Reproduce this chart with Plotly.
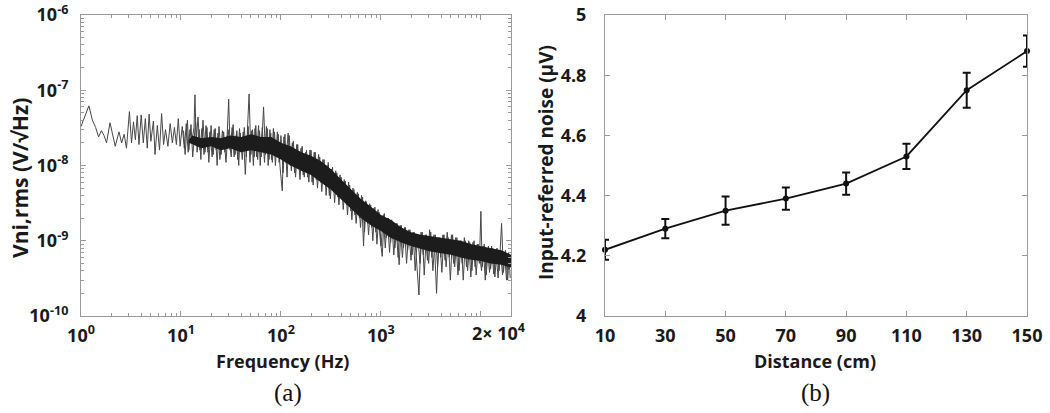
import plotly.graph_objects as go

# ---------------- (a) noise spectrum ----------------
freq = [1.0, 1.1, 1.2, 1.3, 1.4, 1.5, 1.6, 1.7, 1.8, 1.95, 2.1, 2.2, 2.4, 2.55, 2.7, 2.85,
        3.05, 3.2, 3.35, 3.5, 3.65, 3.8, 4.0, 4.2, 4.4, 4.6, 4.8, 5.0, 5.3, 5.5, 5.8, 6.1,
        6.4, 6.7, 7.0, 7.4, 7.8, 8.2, 8.6, 9.0, 9.4, 9.8,
        10.3, 10.8, 11.3, 11.8, 12.3, 12.8, 13.5, 13.8, 14.2, 14.8, 15.5, 16.2, 17, 17.8,
        18.6, 19.5, 20.5, 21.5, 22.5, 23.5, 24.5, 26, 27.5, 29, 30, 31, 32.5, 34, 35.5, 37,
        38.5, 40, 42, 44, 46, 48, 50, 52, 54, 56, 58.5, 61, 63.5, 67, 70, 73, 76, 79, 82,
        86, 90, 94, 98, 103, 107, 112, 118, 124, 130, 137, 144, 151, 159, 167, 176, 185,
        195, 205, 215, 226, 238, 250, 263, 276, 290, 305, 320, 336, 353, 371, 390, 410,
        430, 452, 475, 500, 525, 550, 580, 610, 640, 670, 700, 735, 770, 810, 850, 890,
        935, 980, 1030, 1080, 1130, 1190, 1250, 1310, 1380, 1450, 1520, 1600, 1680, 1760,
        1850, 1950, 2050, 2150, 2260, 2400, 2520, 2650, 2780, 2920, 3070, 3230, 3400, 3600,
        3780, 3970, 4170, 4380, 4600, 4830, 5080, 5340, 5600, 5900, 6200, 6500, 6830, 7180,
        7550, 7930, 8330, 8750, 9200, 9650, 10000, 10300, 10800, 11300, 11900, 12500, 13100,
        13800, 14500, 15200, 16100, 16800, 17600, 18500, 19300, 20000]
vni = [3.3e-8, 4.5e-8, 6.2e-8, 4.0e-8, 3.2e-8, 2.4e-8, 2.9e-8, 2.5e-8, 2.0e-8, 3.7e-8, 2.3e-8,
       1.8e-8, 2.8e-8, 2.0e-8, 2.6e-8, 1.7e-8, 5.2e-8, 2.0e-8, 3.8e-8, 2.2e-8, 4.6e-8, 1.9e-8,
       4.7e-8, 2.0e-8, 4.2e-8, 1.7e-8, 4.8e-8, 2.1e-8, 3.9e-8, 1.4e-8, 3.4e-8, 1.6e-8, 4.9e-8,
       1.9e-8, 3.0e-8, 1.8e-8, 3.6e-8, 2.0e-8, 3.2e-8, 1.9e-8, 4.2e-8, 1.8e-8,
       3.3e-8, 1.7e-8, 3.6e-8, 1.5e-8, 3.0e-8, 2.0e-8, 3.2e-8, 8.7e-8, 2.0e-8, 4.4e-8, 1.6e-8,
       3.1e-8, 1.4e-8, 3.4e-8, 1.5e-8, 2.8e-8, 1.3e-8, 3.0e-8, 1.6e-8, 2.7e-8, 1.2e-8, 2.9e-8,
       1.5e-8, 2.6e-8, 7.6e-8, 1.6e-8, 3.2e-8, 1.3e-8, 2.5e-8, 1.2e-8, 3.1e-8, 1.5e-8, 2.8e-8,
       7.6e-9, 2.6e-8, 8.9e-8, 1.4e-8, 3.0e-8, 1.3e-8, 3.4e-8, 1.2e-8, 2.9e-8, 1.3e-8, 6.0e-8,
       1.4e-8, 3.1e-8, 1.2e-8, 2.7e-8, 1.1e-8, 2.8e-8, 1.3e-8, 2.6e-8, 9.5e-9, 4.6e-9, 2.4e-8,
       1.1e-8, 2.7e-8, 1.0e-8, 2.0e-8, 8.0e-9, 1.9e-8, 9.0e-9, 1.7e-8, 7.5e-9, 1.5e-8, 7.0e-9,
       1.6e-8, 6.0e-9, 1.5e-8, 6.5e-9, 1.4e-8, 6.0e-9, 1.2e-8, 5.5e-9, 1.0e-8, 4.0e-9, 9.0e-9,
       4.5e-9, 8.5e-9, 3.8e-9, 7.5e-9, 3.5e-9, 6.5e-9, 3.0e-9, 6.0e-9, 2.5e-9, 5.0e-9, 2.2e-9,
       4.4e-9, 2.0e-9, 4.0e-9, 8.5e-10, 3.4e-9, 1.7e-9, 3.1e-9, 1.5e-9, 2.7e-9, 1.3e-9, 2.6e-9,
       1.1e-9, 6.2e-10, 2.3e-9, 1.1e-9, 2.0e-9, 9.5e-10, 1.8e-9, 8.0e-10, 1.7e-9, 4.8e-10,
       1.6e-9, 8.0e-10, 1.5e-9, 7.5e-10, 1.4e-9, 6.5e-10, 1.3e-9, 6.0e-10, 1.9e-10, 1.3e-9,
       6.5e-10, 1.2e-9, 5.5e-10, 1.4e-9, 6.0e-10, 1.2e-9, 2.0e-10, 1.1e-9, 6.0e-10, 1.2e-9,
       5.5e-10, 1.3e-9, 6.0e-10, 1.2e-9, 5.0e-10, 1.1e-9, 3.5e-10, 1.0e-9, 5.0e-10, 1.1e-9,
       4.5e-10, 1.0e-9, 3.3e-10, 9.5e-10, 4.5e-10, 9.0e-10, 5.0e-10, 2.46e-9, 4.5e-10, 9.0e-10,
       3.5e-10, 8.5e-10, 4.2e-10, 8.0e-10, 3.3e-10, 8.0e-10, 4.0e-10, 1.7e-9, 3.8e-10, 7.5e-10,
       3.0e-10, 6.5e-10, 5.0e-10]

# further excursions in the dense part of the spectrum
freq_b = [10.6, 11.0, 11.6, 12.0, 12.6, 13.1, 14.0, 14.5, 15.2, 15.8, 16.6, 17.4, 18.2, 19.0,
          20.0, 21.0, 22.0, 23.0, 24.0, 25.2, 26.7, 28.2, 29.6, 31.8, 33.2, 34.8, 36.2, 37.8,
          39.2, 41, 43, 45, 47, 49, 51, 53, 55, 57, 59.7, 62, 65, 68.5, 71.5, 74.5, 77.5, 80.5,
          84, 88, 92, 96, 100, 105, 109.5, 115, 121, 127, 133, 140, 147, 155, 163, 171, 180,
          190, 200, 210, 220, 232, 244, 256, 270, 283, 297, 312, 328, 344, 362, 380, 400, 420,
          441, 463, 487, 512, 537, 565, 595, 625, 655, 685, 717, 752, 790, 830, 870, 912, 957,
          1005, 1055, 1105, 1160, 1220, 1280, 1345, 1415, 1485, 1560, 1640, 1720, 1805, 1900,
          2000, 2100, 2200, 2330, 2460, 2590, 2710, 2850, 3000, 3150, 3310, 3500, 3690, 3870,
          4070, 4270, 4490, 4710, 4950, 5210, 5470, 5750, 6050, 6350, 6660, 7000, 7360, 7740,
          8130, 8540, 8970, 9420, 10150, 10550, 11050, 11600, 12200, 12800, 13450, 14150,
          14850, 15650, 16450, 17200, 18050, 18900, 19650]
vni_b = [2.9e-8, 1.4e-8, 4.0e-8, 1.6e-8, 3.5e-8, 1.3e-8, 3.8e-8, 1.5e-8, 3.0e-8, 1.2e-8,
         4.0e-8, 1.5e-8, 3.2e-8, 1.1e-8, 3.4e-8, 1.4e-8, 3.1e-8, 1.0e-8, 3.3e-8, 1.4e-8,
         2.8e-8, 1.1e-8, 3.0e-8, 1.3e-8, 3.5e-8, 1.4e-8, 2.9e-8, 1.0e-8, 2.7e-8, 1.2e-8,
         3.2e-8, 1.3e-8, 3.3e-8, 1.1e-8, 2.9e-8, 1.0e-8, 3.1e-8, 1.3e-8, 3.4e-8, 1.0e-8,
         3.2e-8, 1.1e-8, 3.3e-8, 1.0e-8, 3.0e-8, 1.2e-8, 3.1e-8, 1.0e-8, 2.8e-8, 1.1e-8,
         2.5e-8, 8.0e-9, 2.6e-8, 7.0e-9, 2.5e-8, 8.5e-9, 2.1e-8, 7.0e-9, 1.9e-8, 6.5e-9,
         1.8e-8, 7.0e-9, 1.6e-8, 6.0e-9, 1.6e-8, 5.5e-9, 1.5e-8, 5.0e-9, 1.3e-8, 4.5e-9,
         1.2e-8, 4.0e-9, 1.1e-8, 3.6e-9, 9.5e-9, 3.2e-9, 8.0e-9, 3.0e-9, 7.0e-9, 2.6e-9,
         6.2e-9, 2.2e-9, 5.5e-9, 1.9e-9, 4.8e-9, 1.7e-9, 4.2e-9, 1.5e-9, 3.8e-9, 1.3e-9,
         3.3e-9, 1.2e-9, 3.0e-9, 1.0e-9, 2.8e-9, 9.0e-10, 2.4e-9, 8.5e-10, 2.2e-9, 8.0e-10,
         2.0e-9, 7.0e-10, 1.9e-9, 6.5e-10, 1.7e-9, 6.0e-10, 1.6e-9, 6.0e-10, 1.5e-9, 5.0e-10,
         1.4e-9, 5.5e-10, 1.3e-9, 4.0e-10, 1.2e-9, 5.0e-10, 1.3e-9, 3.5e-10, 1.2e-9, 5.0e-10,
         1.3e-9, 4.0e-10, 1.2e-9, 4.5e-10, 1.1e-9, 3.8e-10, 1.2e-9, 4.5e-10, 1.1e-9, 3.0e-10,
         1.2e-9, 4.5e-10, 1.1e-9, 4.0e-10, 1.0e-9, 3.0e-10, 1.0e-9, 4.0e-10, 9.5e-10, 4.0e-10,
         1.0e-9, 3.5e-10, 9.0e-10, 4.0e-10, 8.5e-10, 3.0e-10, 8.0e-10, 3.8e-10, 8.5e-10,
         3.6e-10, 7.5e-10, 3.2e-10, 7.5e-10, 3.5e-10, 7.0e-10, 3.0e-10, 7.0e-10, 3.2e-10]

# dense dark core of the spectrum (upper / lower edges)
band_freq = [12, 13, 16, 20, 25, 31, 40, 50, 63, 80, 100, 125, 160, 200, 250, 315, 400,
             500, 630, 800, 1000, 1250, 1600, 2000, 2500, 3150, 4000, 5000, 6300, 8000,
             10000, 12500, 16000, 20000]
band_hi = [2.2e-8, 2.5e-8, 2.3e-8, 2.4e-8, 2.3e-8, 2.5e-8, 2.4e-8, 2.6e-8, 2.4e-8,
           2.4e-8, 2.0e-8, 1.8e-8, 1.5e-8, 1.35e-8, 1.15e-8, 9.0e-9, 6.5e-9, 4.8e-9, 3.6e-9,
           2.8e-9, 2.2e-9, 1.9e-9, 1.5e-9, 1.3e-9, 1.2e-9, 1.15e-9, 1.1e-9, 1.05e-9, 1.0e-9,
           9.0e-10, 8.5e-10, 8.0e-10, 7.5e-10, 6.5e-10]
band_lo = [2.0e-8, 1.9e-8, 1.7e-8, 1.8e-8, 1.6e-8, 1.7e-8, 1.5e-8, 1.6e-8, 1.5e-8,
           1.4e-8, 1.2e-8, 1.0e-8, 8.5e-9, 7.5e-9, 6.0e-9, 4.8e-9, 3.6e-9, 2.7e-9, 2.0e-9,
           1.6e-9, 1.35e-9, 1.1e-9, 9.5e-10, 8.5e-10, 7.8e-10, 7.2e-10, 6.8e-10, 6.5e-10,
           6.0e-10, 5.6e-10, 5.4e-10, 5.0e-10, 4.8e-10, 4.4e-10]

x_tickvals = [1, 10, 100, 1000, 10000]
x_ticktext = ["10<sup>0</sup>", "10<sup>1</sup>", "10<sup>2</sup>", "10<sup>3</sup>", ""]
y_tickvals = [1e-10, 1e-9, 1e-8, 1e-7, 1e-6]
y_ticktext = ["10<sup>-10</sup>", "10<sup>-9</sup>", "10<sup>-8</sup>", "10<sup>-7</sup>", "10<sup>-6</sup>"]
x_minor = [m * 10 ** k for k in range(0, 5) for m in range(2, 10) if m * 10 ** k <= 20000]
y_minor = [m * 10.0 ** k for k in range(-10, -6) for m in range(2, 10)]

# ---------------- (b) noise vs distance ----------------
distance = [10, 30, 50, 70, 90, 110, 130, 150]
noise = [4.22, 4.29, 4.35, 4.39, 4.44, 4.53, 4.75, 4.88]
noise_err = [0.033, 0.032, 0.047, 0.037, 0.037, 0.042, 0.058, 0.052]
yb_tickvals = [4, 4.2, 4.4, 4.6, 4.8, 5]
yb_ticktext = ["4", "4.2", "4.4", "4.6", "4.8", "5"]

W, H = 1050, 413
FONT = "'Open Sans', sans-serif"
FRAME = "#9a9a9a"

fig = go.Figure()

for fx, fy in ((freq, vni), (freq_b, vni_b)):
    fig.add_trace(go.Scatter(
        x=fx, y=fy, mode="lines", line=dict(color="#474747", width=1),
        showlegend=False, xaxis="x", yaxis="y"))
fig.add_trace(go.Scatter(
    x=band_freq + band_freq[::-1], y=band_hi + band_lo[::-1],
    fill="toself", fillcolor="#1c1c1c", line=dict(width=0),
    mode="lines", hoverinfo="skip", showlegend=False, xaxis="x", yaxis="y"))

fig.add_trace(go.Scatter(
    x=distance, y=noise, mode="lines+markers",
    line=dict(color="#111", width=1.8), marker=dict(color="#111", size=6),
    error_y=dict(type="data", array=noise_err, color="#111", thickness=2, width=4),
    cliponaxis=False, showlegend=False, xaxis="x2", yaxis="y2"))

tickfont = dict(family=FONT, size=18, color="#1a1a1a", weight="bold")
common = dict(showline=True, mirror="ticks", linecolor=FRAME, linewidth=1,
              ticks="inside", tickcolor=FRAME, ticklen=5, showgrid=False,
              zeroline=False, tickfont=tickfont, automargin=False)

xd1 = [81 / W, 511 / W]
xd2 = [605 / W, 1027 / W]
yd = [(H - 316) / H, (H - 15) / H]

fig.update_layout(
    width=W, height=H, margin=dict(l=0, r=0, t=0, b=0),
    paper_bgcolor="white", plot_bgcolor="white",
    xaxis=dict(domain=xd1, type="log", range=[0, 4.30103], tickvals=x_tickvals,
               ticktext=x_ticktext, anchor="y", ticklabelstandoff=3,
               minor=dict(ticks="inside", ticklen=3, tickcolor=FRAME, tickvals=x_minor,
                          showgrid=False),
               **common),
    yaxis=dict(domain=yd, type="log", range=[-10, -6], tickvals=y_tickvals,
               ticktext=y_ticktext, anchor="x", ticklabelstandoff=8,
               minor=dict(ticks="inside", ticklen=3, tickcolor=FRAME, tickvals=y_minor,
                          showgrid=False),
               **common),
    xaxis2=dict(domain=xd2, range=[10, 150], tickvals=distance,
                ticktext=[str(d) for d in distance], anchor="y2", ticklabelstandoff=3,
                **common),
    yaxis2=dict(domain=yd, range=[4, 5], tickvals=yb_tickvals, ticktext=yb_ticktext,
                anchor="x2", ticklabelstandoff=14, **common),
)

title_font = dict(family=FONT, size=18, color="#1a1a1a", weight="bold")
ann = [
    dict(text="2× 10<sup>4</sup>", x=498 / W, y=(H - 332) / H, font=tickfont),
    dict(text="Frequency (Hz)", x=282 / W, y=(H - 361) / H, font=title_font),
    dict(text="Distance (cm)", x=815 / W, y=(H - 361) / H, font=title_font),
    dict(text="Vni,rms (V/√Hz)", x=4 / W, y=(H - 178) / H, textangle=-90, xanchor="left",
         font=dict(family=FONT, size=21, color="#1a1a1a", weight="bold")),
    dict(text="Input-referred noise (µV)", x=531 / W, y=(H - 163) / H, textangle=-90,
         xanchor="left", font=dict(family=FONT, size=19, color="#1a1a1a", weight="bold")),
    dict(text="(a)", x=288 / W, y=(H - 393) / H,
         font=dict(family="'Liberation Serif', serif", size=25, color="#111")),
    dict(text="(b)", x=815 / W, y=(H - 393) / H,
         font=dict(family="'Liberation Serif', serif", size=25, color="#111")),
]
for a in ann:
    a.setdefault("xanchor", "center")
    fig.add_annotation(xref="paper", yref="paper", showarrow=False,
                       yanchor="middle", **a)

fig.write_html("out.html", config={"displayModeBar": False},
               post_script="document.body.style.margin='0';document.body.style.overflow='hidden';")
